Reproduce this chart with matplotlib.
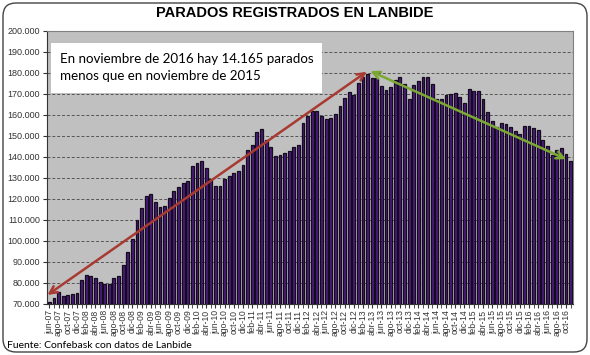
import matplotlib
matplotlib.use("Agg")
import matplotlib.pyplot as plt
from matplotlib.patches import FancyBboxPatch, Rectangle
from matplotlib.ticker import FuncFormatter, MultipleLocator

# Monthly registered unemployed, jun-07 .. nov-16
meses = ["ene", "feb", "mar", "abr", "may", "jun", "jul", "ago", "sep", "oct", "nov", "dic"]
months = []
for year in range(2007, 2017):
    for m in range(12):
        if (year == 2007 and m < 5) or (year == 2016 and m > 10):
            continue
        months.append(f"{meses[m]}-{str(year)[2:]}")

parados = [
    71100, 72700, 75800, 73900, 74200, 74700, 75000,                      # 2007
    81500, 83700, 83100, 82200, 80600, 79500, 79500, 82200, 83400, 88400, 94700, 101000,  # 2008
    110200, 115700, 121200, 122300, 118800, 116200, 116800, 120400, 123600, 125900, 127500, 128500,  # 2009
    135700, 137300, 138200, 134600, 129400, 126400, 126300, 129400, 131000, 132600, 133400, 136100,  # 2010
    143300, 145600, 151900, 153500, 148000, 144600, 140300, 140800, 141700, 142800, 144800, 145500,  # 2011
    156200, 159300, 162000, 161900, 159500, 158300, 158500, 160500, 164100, 168000, 170900, 169300,  # 2012
    175300, 178000, 179400, 177500, 177500, 174000, 171700, 173200, 176700, 178300, 174800, 167700,  # 2013
    174300, 176100, 178300, 178000, 174800, 167700, 167500, 169400, 169900, 170700, 168700, 165900,  # 2014
    172200, 171400, 171400, 167700, 161500, 157100, 154300, 156200, 155600, 154300, 152300, 150900,  # 2015
    154800, 154600, 154000, 152700, 148300, 145300, 140900, 143300, 144100, 141400, 138100,          # 2016
]

# Arrow end points (month index, value)
red_arrow = [(-0.4, 74300), (68.8, 180600)]
green_arrow = [(69.6, 180900), (112.0, 139000)]

titulo = "PARADOS REGISTRADOS EN LANBIDE"
nota = "En noviembre de 2016 hay 14.165 parados\nmenos que en noviembre de 2015"
fuente = "Fuente: Confebask con datos de Lanbide"

fig = plt.figure(figsize=(5.9, 3.55), dpi=100)
fig.patch.set_facecolor("white")
ax = fig.add_axes([0.0797, 0.1437, 0.8913, 0.769])
ax.set_facecolor("#c0c0c0")

x = list(range(len(parados)))
ax.bar(x, [p - 70000 for p in parados], bottom=70000, width=0.62,
       color="#4a1a7c", edgecolor="#140c1c", linewidth=0.9, zorder=3)

ax.set_xlim(-0.5, len(parados) - 0.5)
ax.set_ylim(70000, 200000)
ax.yaxis.set_major_locator(MultipleLocator(10000))
ax.yaxis.set_major_formatter(FuncFormatter(lambda v, p: f"{int(v):,}".replace(",", ".")))
ax.grid(axis="y", color="#555555", linestyle=(0, (3, 2)), linewidth=0.7, zorder=1)

ax.set_xticks(x[::2])
ax.set_xticklabels(months[::2], rotation=90, fontsize=6.2, family="Liberation Sans", color="#333333")
ax.set_xticks(x, minor=True)
ax.tick_params(axis="x", which="both", length=3, color="#333333", pad=1)
ax.tick_params(axis="y", labelsize=6.5, length=3, color="#333333", pad=2)
for lab in ax.get_yticklabels():
    lab.set_family("Liberation Sans")
    lab.set_color("#333333")
for s in ["top", "right"]:
    ax.spines[s].set_color("#808080")
for s in ["left", "bottom"]:
    ax.spines[s].set_color("#333333")

for pts, col in [(red_arrow, "#a83a32"), (green_arrow, "#7aa832")]:
    ax.annotate("", xy=pts[1], xytext=pts[0],
                arrowprops=dict(arrowstyle="<->", color=col, lw=1.8,
                                mutation_scale=13, shrinkA=0, shrinkB=0),
                zorder=5)

# white note box
ax.add_patch(Rectangle((0.0076, 0.773), 0.516, 0.183, transform=ax.transAxes,
                       facecolor="white", edgecolor="none", zorder=6))
ax.text(0.024, 0.8645, nota, transform=ax.transAxes, fontsize=9.6, family="Lato",
        va="center", ha="left", zorder=7, linespacing=1.5)

fig.text(0.5, 0.962, titulo, ha="center", va="center", fontsize=10.5,
         fontweight="bold", family="Liberation Sans")
fig.text(0.012, 0.015, fuente, ha="left", va="bottom", fontsize=7.5, family="Lato")

fig.patches.append(FancyBboxPatch((0.03, 0.03), 5.84, 3.49,
                                  boxstyle="round,pad=0,rounding_size=0.13",
                                  transform=fig.dpi_scale_trans, facecolor="none",
                                  edgecolor="#444444", linewidth=1.0))

fig.savefig("out.png", dpi=100)
